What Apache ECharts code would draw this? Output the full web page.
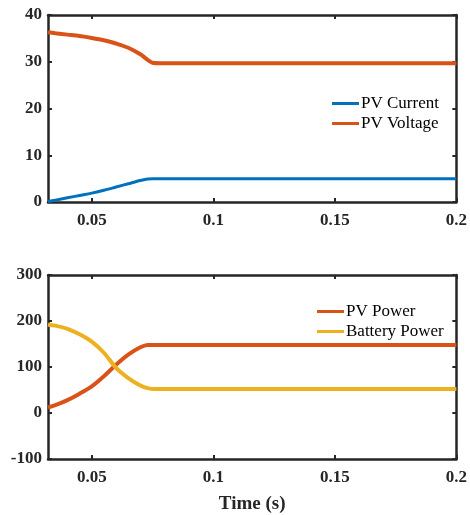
<!DOCTYPE html>
<html>
<head>
<meta charset="utf-8">
<script src="https://cdn.jsdelivr.net/npm/echarts@6/dist/echarts.min.js"></script>
<style>
  html, body { margin: 0; padding: 0; background: #fff; }
  #chart { width: 470px; height: 515px; }
</style>
</head>
<body>
<div id="chart"></div>
<script>
// top plot data
var timeTop = [0.032, 0.035, 0.04, 0.045, 0.05, 0.055, 0.06, 0.065, 0.07, 0.073, 0.075, 0.078, 0.2]
var currentVals = [0.1, 0.4, 0.9, 1.4, 1.9, 2.5, 3.2, 3.9, 4.6, 4.9, 5.0, 5.0, 5.0]
var voltageVals = [36.3, 36.1, 35.8, 35.5, 35.1, 34.6, 33.9, 33.0, 31.6, 30.4, 29.8, 29.7, 29.7]

// bottom plot data
var timeBottom = [0.032, 0.035, 0.04, 0.045, 0.05, 0.055, 0.06, 0.065, 0.07, 0.073, 0.076, 0.2]
var pvPowerVals = [12, 17, 28, 42, 58, 80, 105, 127, 143, 148, 148, 148]
var batteryVals = [192, 190, 183, 171, 155, 131, 98, 76, 60, 54, 52, 52]

var xTicks = [0.05, 0.1, 0.15, 0.2]
var yTicksTop = [0, 10, 20, 30, 40]
var yTicksBottom = [-100, 0, 100, 200, 300]

function pairs(xs, ys) {
  var out = []
  for (var i = 0; i < xs.length; i++) out.push([xs[i], ys[i]])
  return out
}

var axisColor = '#262626'
var labelFont = { fontFamily: 'Liberation Serif', fontSize: 17, fontWeight: 'bold', color: axisColor }
var legendFont = { fontFamily: 'Liberation Serif', fontSize: 17, color: '#000', padding: [0, 0, 0, -3] }

function xAx(grid, pos, show) {
  return {
    type: 'value', gridIndex: grid, position: pos, min: 0.032, max: 0.2,
    axisLine: { lineStyle: { color: axisColor, width: 2.5 }, onZero: false },
    axisTick: { inside: true, length: 4, lineStyle: { width: 2 }, customValues: xTicks },
    axisLabel: Object.assign({ show: show, margin: 10, customValues: xTicks }, labelFont),
    splitLine: { show: false }
  }
}
function yAx(grid, pos, show, min, max, ticks) {
  return {
    type: 'value', gridIndex: grid, position: pos, min: min, max: max, interval: ticks[1] - ticks[0],
    axisLine: { lineStyle: { color: axisColor, width: 2.5 }, onZero: false },
    axisTick: { inside: true, length: 4, lineStyle: { width: 2 } },
    axisLabel: Object.assign({ show: show, margin: 6 }, labelFont),
    splitLine: { show: false }
  }
}

var chart = echarts.init(document.getElementById('chart'))
var xb = xAx(1, 'bottom', true)
xb.name = 'Time (s)'
xb.nameLocation = 'middle'
xb.nameGap = 36
xb.nameTextStyle = { fontFamily: 'Liberation Serif', fontSize: 19, fontWeight: 'bold', color: axisColor }

var option = {
  animation: false,
  backgroundColor: '#fff',
  grid: [
    { left: 48, top: 15, width: 410, height: 187 },
    { left: 48, top: 275, width: 410, height: 186 }
  ],
  xAxis: [xAx(0, 'bottom', true), xAx(0, 'top', false), xb, xAx(1, 'top', false)],
  yAxis: [
    yAx(0, 'left', true, 0, 40, yTicksTop),
    yAx(0, 'right', false, 0, 40, yTicksTop),
    yAx(1, 'left', true, -100, 300, yTicksBottom),
    yAx(1, 'right', false, -100, 300, yTicksBottom)
  ],
  legend: [
    {
      orient: 'vertical', left: 332, top: 95, itemWidth: 27, itemHeight: 3, itemGap: 3,
      icon: 'rect', textStyle: legendFont, padding: 0,
      data: ['PV Current', 'PV Voltage']
    },
    {
      orient: 'vertical', left: 317, top: 303, itemWidth: 27, itemHeight: 3, itemGap: 3,
      icon: 'rect', textStyle: legendFont, padding: 0,
      data: ['PV Power', 'Battery Power']
    }
  ],
  series: [
    { name: 'PV Current', type: 'line', xAxisIndex: 0, yAxisIndex: 0, showSymbol: false, smooth: 0.3,
      color: '#0072BD', lineStyle: { width: 3 }, data: pairs(timeTop, currentVals) },
    { name: 'PV Voltage', type: 'line', xAxisIndex: 0, yAxisIndex: 0, showSymbol: false, smooth: 0.3,
      color: '#D95319', lineStyle: { width: 4 }, data: pairs(timeTop, voltageVals) },
    { name: 'PV Power', type: 'line', xAxisIndex: 2, yAxisIndex: 2, showSymbol: false, smooth: 0.3,
      color: '#D95319', lineStyle: { width: 4 }, data: pairs(timeBottom, pvPowerVals) },
    { name: 'Battery Power', type: 'line', xAxisIndex: 2, yAxisIndex: 2, showSymbol: false, smooth: 0.3,
      color: '#EDB120', lineStyle: { width: 4 }, data: pairs(timeBottom, batteryVals) }
  ]
}
chart.setOption(option)
</script>
</body>
</html>
